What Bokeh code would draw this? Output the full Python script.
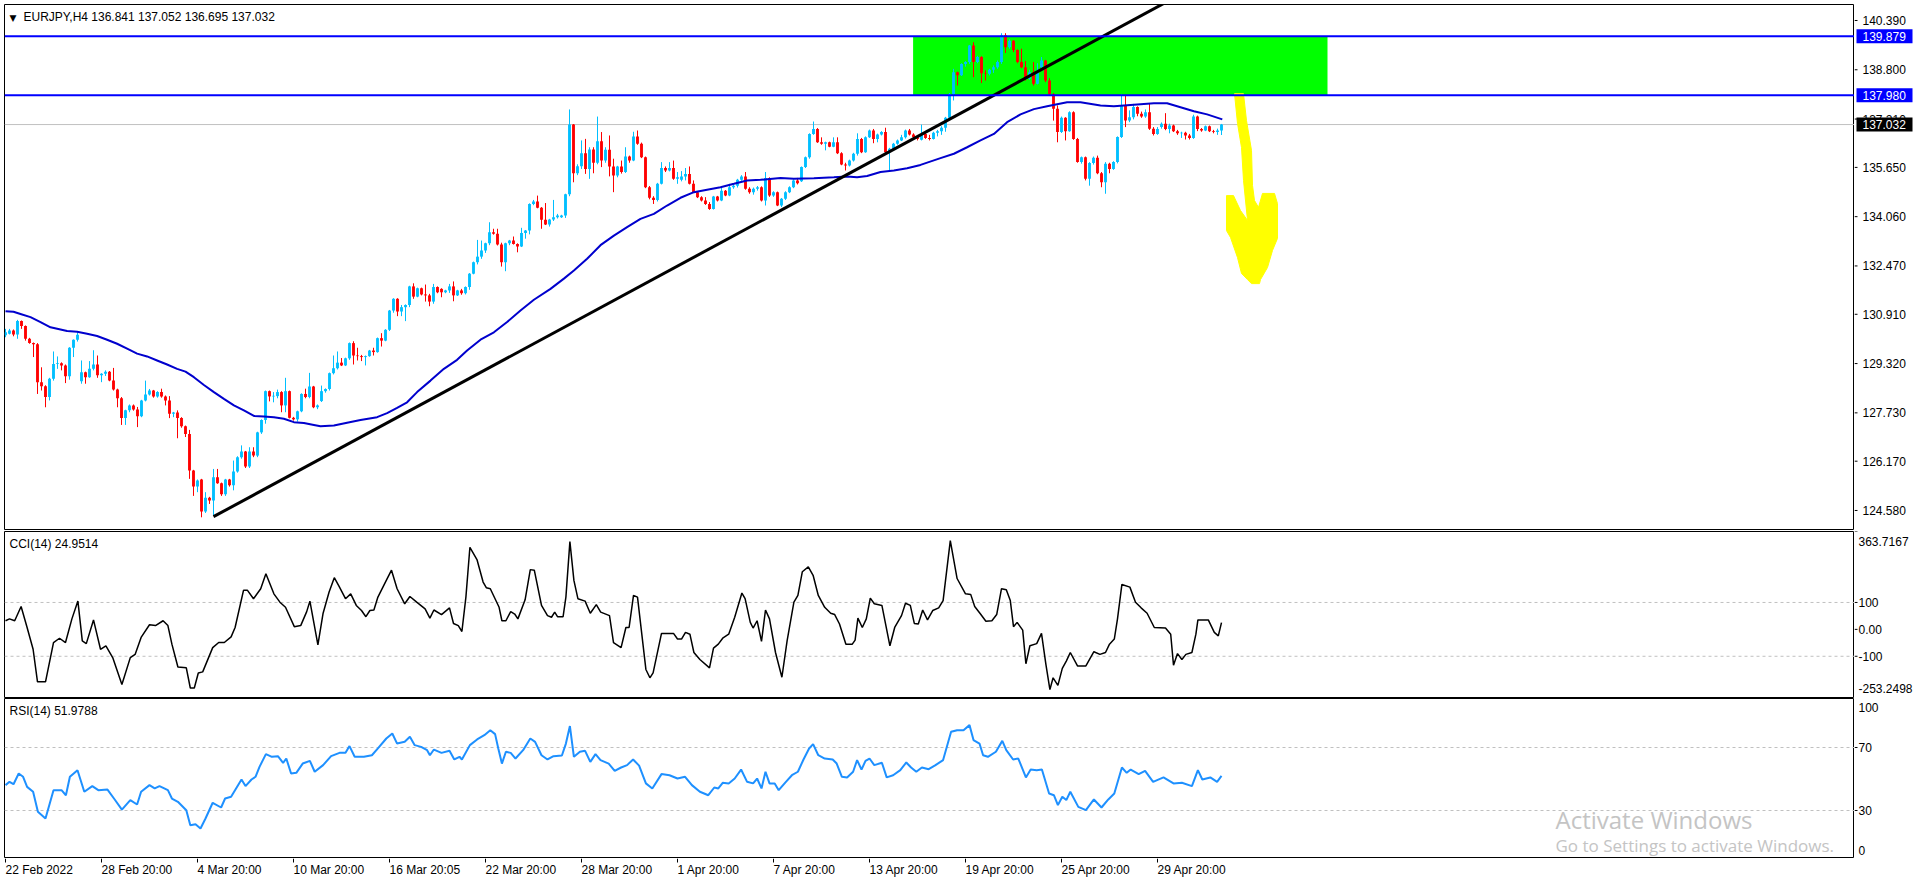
from bokeh.plotting import figure
from bokeh.layouts import column, row
from bokeh.models import Range1d, Label, Span, ColumnDataSource, Grid
from bokeh.core.properties import value
from bokeh.embed import file_html
from bokeh.resources import INLINE

FONT = "Liberation Sans"

# ---------------- data (EURJPY H4, bars indexed from 22 Feb 2022 20:00) ----------------
opn = [130.23,130.28,130.39,130.26,130.69,130.53,130.12,129.98,129.94,128.72,
128.59,128.24,128.83,129.31,129.33,129.26,128.91,129.83,130.09,128.75,
129.04,128.88,129.15,129.29,128.94,128.99,129.06,128.77,128.48,128.20,
127.56,127.81,127.97,127.84,127.62,128.13,128.32,128.45,128.26,128.40,
128.26,128.13,127.70,127.74,127.56,127.30,127.05,125.87,125.35,125.58,
124.55,124.99,124.90,125.65,125.46,125.10,125.58,125.39,125.84,126.30,
126.48,126.00,126.48,126.35,127.10,127.50,128.43,128.26,128.27,128.40,
127.97,128.43,127.57,127.52,127.78,128.34,128.24,128.58,127.91,128.11,
128.43,128.50,129.01,129.17,129.35,129.26,129.49,129.98,129.58,129.56,
129.53,129.56,129.74,129.69,130.14,130.06,130.41,131.03,131.41,131.00,
131.14,131.21,131.81,131.48,131.75,131.55,131.52,131.32,131.79,131.73,
131.62,131.68,131.81,131.52,131.68,131.59,131.79,132.22,132.59,132.77,
132.97,133.20,133.56,133.51,133.16,132.59,133.20,133.29,133.18,133.10,
133.53,133.61,134.47,134.55,134.35,133.96,133.81,133.97,134.04,134.04,
134.10,134.78,137.03,135.46,135.69,136.11,135.60,136.23,135.80,136.49,
135.87,136.22,135.68,135.39,135.68,135.50,136.00,135.87,136.65,136.41,
135.98,135.01,134.67,134.60,135.12,135.63,135.55,135.63,135.28,135.25,
135.36,135.44,135.12,134.85,134.69,134.58,134.47,134.31,134.71,134.58,
134.90,134.74,135.01,135.06,135.25,135.36,134.96,134.85,134.96,135.01,
134.58,135.31,134.74,134.85,134.42,134.64,134.85,135.01,135.23,135.20,
135.66,135.98,136.73,136.89,136.46,136.41,136.46,136.32,136.46,136.11,
135.74,135.71,135.87,136.09,136.57,136.14,136.62,136.84,136.57,136.71,
136.79,136.14,136.25,136.41,136.52,136.62,136.84,136.71,136.62,136.54,
136.73,136.60,136.57,136.77,136.82,136.93,137.25,138.02,138.72,138.62,
138.99,139.05,139.58,139.05,139.21,138.69,138.67,138.80,138.88,139.05,
139.91,139.53,139.74,139.44,139.05,138.88,138.51,138.72,138.35,138.88,
139.10,138.45,138.02,137.54,136.79,137.25,136.82,137.43,136.57,135.82,
135.98,135.28,135.79,135.96,135.46,135.17,135.77,135.60,135.82,136.63,
137.65,137.16,137.27,137.60,137.38,137.29,137.43,136.90,136.73,136.95,
137.06,136.89,137.00,136.82,136.75,136.77,136.68,136.60,137.29,136.89,
136.84,136.98,136.82,136.79,136.841]

high = [130.44,130.44,130.42,130.73,130.71,130.55,130.15,130.00,129.98,129.20,
128.62,128.86,129.71,129.55,129.36,129.29,129.85,130.10,130.33,129.42,
129.06,129.40,129.75,129.58,129.01,129.10,129.08,129.18,128.51,128.24,
127.83,128.00,128.00,127.92,128.15,128.77,128.50,128.47,128.43,128.51,
128.29,128.27,127.76,127.81,127.59,127.32,127.18,125.89,125.58,125.60,
125.17,125.02,125.92,125.92,125.48,125.60,125.60,126.19,126.33,126.68,
126.50,126.62,126.62,127.12,127.52,128.45,128.45,128.40,128.48,128.43,
128.86,128.45,127.60,127.80,128.36,128.51,129.02,128.60,128.00,128.61,
128.52,129.03,129.58,129.71,129.50,129.51,130.00,130.04,129.83,129.60,
129.58,129.76,129.83,130.16,130.30,130.43,131.05,131.43,131.43,131.21,
131.23,131.83,131.91,131.77,131.77,131.87,131.57,131.89,131.81,131.75,
131.70,131.89,131.97,131.70,131.73,131.81,132.24,132.61,133.31,133.29,
133.22,133.88,133.67,133.67,133.22,133.22,133.31,133.42,133.20,133.70,
133.63,134.49,134.60,134.74,134.37,134.50,133.99,134.60,134.15,134.12,
134.80,137.52,137.05,135.75,136.52,136.57,136.30,136.30,137.29,136.79,
136.30,136.68,135.93,135.70,135.87,136.30,136.03,136.80,136.84,136.45,
136.00,135.05,134.72,135.15,135.82,135.68,135.82,135.87,135.50,135.53,
135.63,135.68,135.23,134.88,134.72,134.69,134.53,134.73,134.73,135.01,
134.92,135.12,135.10,135.28,135.40,135.50,135.01,135.00,135.05,135.04,
135.50,135.33,134.88,134.87,134.66,134.88,135.04,135.26,135.31,135.68,
136.00,136.75,137.13,136.92,136.62,136.48,136.48,136.62,136.62,136.14,
135.80,135.90,136.12,136.75,136.60,136.65,136.87,136.89,136.74,136.82,
136.93,136.28,136.44,136.55,136.70,136.87,136.89,136.75,136.65,137.03,
136.75,136.70,136.80,136.86,136.98,137.28,138.05,138.83,138.74,139.01,
139.08,139.60,139.69,139.25,139.24,138.78,138.83,138.94,139.10,139.98,
139.98,139.78,139.76,139.46,139.48,139.08,138.80,139.05,139.01,139.21,
139.12,138.53,138.05,137.65,137.29,137.27,137.46,137.46,136.60,136.00,
136.00,135.82,136.00,136.03,135.50,135.82,135.80,135.85,136.65,138.02,
137.97,137.49,137.70,137.62,137.45,137.52,137.70,136.95,136.95,137.10,
137.40,137.06,137.03,136.86,136.80,136.80,136.73,137.35,137.32,136.92,
137.00,137.00,136.86,136.90,137.052]

low = [130.17,130.26,130.20,130.12,130.44,130.06,129.96,129.53,128.34,128.45,
127.91,128.13,128.77,129.15,129.10,128.69,128.80,129.53,130.03,128.67,
128.67,128.86,129.10,128.86,128.72,128.92,128.75,128.45,127.91,127.34,
127.34,127.75,127.80,127.27,127.59,128.10,128.29,128.22,128.22,128.22,
127.97,127.56,127.59,126.91,127.25,126.95,125.60,125.05,125.17,124.36,
124.50,124.79,124.42,125.44,125.05,125.05,125.35,125.23,125.80,126.25,
125.95,125.95,126.30,126.30,127.05,127.38,128.10,128.07,128.20,127.75,
127.75,127.55,127.48,127.45,127.75,128.20,128.20,127.88,127.85,128.08,
128.38,128.45,128.97,129.13,129.24,129.24,129.44,129.29,129.42,129.40,
129.26,129.54,129.58,129.67,129.87,130.04,130.37,130.96,130.85,130.85,
130.69,131.14,131.41,131.46,131.52,131.32,131.17,131.25,131.59,131.46,
131.59,131.60,131.33,131.50,131.54,131.55,131.70,132.20,132.52,132.70,
132.89,133.14,133.48,133.13,132.45,132.30,133.14,133.16,132.91,133.08,
133.35,133.49,134.43,134.33,133.67,133.79,133.74,133.92,134.00,134.02,
134.02,134.72,135.17,135.40,135.60,135.44,135.28,135.46,135.75,135.66,
135.80,135.36,134.85,135.33,135.45,135.47,135.80,135.85,136.38,135.95,
134.98,134.62,134.47,134.55,135.10,135.50,135.52,135.25,135.12,135.20,
135.23,135.10,134.82,134.66,134.55,134.44,134.28,134.29,134.55,134.56,
134.72,134.72,134.96,135.00,135.22,134.93,134.80,134.77,134.90,134.55,
134.42,134.70,134.70,134.40,134.37,134.60,134.82,134.98,135.10,135.18,
135.63,135.93,136.70,136.44,136.38,136.20,136.30,136.30,136.08,135.72,
135.55,135.68,135.84,136.03,136.11,136.12,136.60,136.43,136.46,136.68,
136.12,135.55,136.22,136.38,136.50,136.58,136.68,136.58,136.52,136.52,
136.57,136.52,136.55,136.65,136.70,136.80,137.22,137.81,138.29,138.60,
138.90,138.99,138.56,139.01,138.37,138.45,138.62,138.70,138.83,138.99,
139.34,139.48,139.37,139.01,138.85,138.45,138.48,138.29,138.33,138.85,
138.40,137.97,137.16,136.46,136.76,136.52,136.80,136.54,135.80,135.77,
135.23,135.06,135.74,135.43,135.01,134.80,135.46,135.57,135.78,136.60,
136.95,137.11,137.20,137.30,137.25,137.25,136.86,136.68,136.70,136.90,
136.85,136.75,136.79,136.70,136.60,136.55,136.55,136.57,136.82,136.80,
136.82,136.79,136.75,136.70,136.695]

close = [130.33,130.39,130.26,130.69,130.53,130.12,129.98,129.94,128.72,128.59,
128.24,128.83,129.31,129.33,129.26,128.91,129.83,130.09,130.25,129.04,
128.88,129.15,129.29,128.94,128.99,129.06,128.77,128.48,128.20,127.56,
127.81,127.97,127.84,127.62,128.13,128.32,128.45,128.26,128.40,128.26,
128.13,127.70,127.74,127.56,127.30,127.05,125.87,125.35,125.55,124.55,
124.99,124.90,125.65,125.46,125.10,125.58,125.39,125.84,126.30,126.48,
126.00,126.48,126.35,127.10,127.50,128.43,128.26,128.27,128.40,127.97,
128.43,127.57,127.52,127.78,128.34,128.24,128.58,127.91,127.97,128.43,
128.50,129.01,129.17,129.35,129.26,129.49,129.98,129.58,129.56,129.53,
129.56,129.74,129.69,130.14,130.06,130.41,131.03,131.41,131.00,131.14,
131.21,131.81,131.48,131.75,131.55,131.52,131.32,131.79,131.62,131.62,
131.68,131.81,131.52,131.68,131.59,131.79,132.22,132.59,132.77,132.97,
133.20,133.56,133.51,133.16,132.59,133.20,133.29,133.18,133.10,133.53,
133.61,134.47,134.55,134.35,133.96,133.81,133.97,134.04,134.10,134.10,
134.78,137.03,135.46,135.69,136.11,135.60,136.23,135.80,136.49,135.87,
136.22,135.68,135.39,135.68,135.50,136.00,135.87,136.65,136.41,135.98,
135.01,134.67,134.60,135.12,135.63,135.55,135.63,135.28,135.33,135.36,
135.44,135.12,134.85,134.69,134.58,134.47,134.31,134.71,134.58,134.90,
134.74,135.01,135.06,135.25,135.36,134.96,134.85,134.96,135.01,134.58,
135.31,134.74,134.85,134.42,134.64,134.85,135.01,135.23,135.14,135.66,
135.98,136.73,136.89,136.46,136.41,136.46,136.32,136.46,136.11,135.74,
135.71,135.87,136.09,136.57,136.14,136.62,136.84,136.57,136.71,136.79,
136.14,136.25,136.41,136.52,136.62,136.84,136.71,136.62,136.57,136.73,
136.60,136.57,136.77,136.82,136.93,137.25,138.02,138.72,138.62,138.99,
139.05,139.58,139.05,139.21,138.69,138.67,138.80,138.88,139.05,139.91,
139.53,139.74,139.44,139.05,138.88,138.51,138.72,138.35,138.78,139.10,
138.45,138.02,137.54,136.79,137.25,136.82,137.43,136.57,135.82,135.98,
135.28,135.79,135.96,135.46,135.17,135.77,135.60,135.82,136.63,137.65,
137.16,137.27,137.60,137.38,137.29,137.43,136.90,136.73,136.89,137.06,
136.89,137.00,136.82,136.75,136.77,136.68,136.60,137.29,136.89,136.84,
136.98,136.82,136.79,136.84,137.032]

# moving average (blue line) read at sample bars
ma_bar = [0,2,3.75,6.25,8.75,11.25,13.75,15.4,17.9,20.4,22.9,25.4,27.9,30.4,32.9,35.4,37.9,40.4,42.9,45,
47.1,49.6,52.1,54.6,57.1,59.6,62.1,64.6,67.1,69.6,72.1,74.6,77.1,78.75,82.1,85.4,88.75,92.9,95.4,97.9,
100.4,102.9,106.25,109.6,112.9,115.4,118.75,122.1,125.4,128.75,132.1,136.25,139.6,142.1,145.4,148.75,
152.1,155.4,158.75,162.1,165.4,168.75,172.1,175.4,178.75,182.1,185.4,188.75,193.75,197.1,202.1,207.1,
210.4,212.9,215.4,218.75,222.1,225.4,228.75,233.75,237.1,240.4,243.75,247.1,250.4,253.75,257.1,260.4,
265.4,268.75,273.75,277.1,282.1,287.1,290.4,293.75,297.1,300.4,304.2]
ma_val = [131.01,130.99,130.92,130.82,130.66,130.49,130.42,130.37,130.35,130.28,130.21,130.09,129.96,129.80,
129.64,129.55,129.42,129.29,129.15,129.06,128.88,128.63,128.40,128.18,127.97,127.81,127.63,127.61,127.59,
127.54,127.43,127.40,127.34,127.30,127.32,127.41,127.50,127.59,127.72,127.89,128.07,128.40,128.77,129.15,
129.44,129.74,130.09,130.33,130.66,131.03,131.38,131.73,132.06,132.32,132.70,133.14,133.45,133.72,133.99,
134.15,134.42,134.67,134.85,134.93,135.01,135.12,135.23,135.25,135.31,135.28,135.30,135.33,135.36,135.33,
135.37,135.50,135.55,135.62,135.73,135.95,136.09,136.30,136.52,136.73,137.11,137.36,137.53,137.62,137.75,
137.75,137.65,137.62,137.67,137.72,137.72,137.59,137.46,137.36,137.20]

# trend line end points (bar, price)
trend_bar = [52, 290]
trend_price = [124.38, 140.97]

# supply zone and levels
zone_left, zone_right = 226.9, 330.5
zone_low, zone_high = 137.980, 139.879
bid_price = 137.032

# hand drawn yellow arrow outline (bar, price)
arrow_bar = [307.25,309.5,310.25,311.5,311.75,312.25,313.25,314.25,317.25,318,318,316.75,315.5,313.75,
             313.5,311.5,310.5,309,308,306.25,305.25,305.25,307,308.75,310.5,309.5,309,308]
arrow_price = [138.03,138.03,137.16,136.20,135.07,134.58,134.36,134.81,134.81,134.48,133.36,132.97,132.42,
               132.03,131.90,131.90,132.03,132.23,132.74,133.39,133.61,134.74,134.74,134.26,133.94,135.23,
               136.29,137.07]

price_ticks = [140.390,138.800,137.210,135.650,134.060,132.470,130.910,129.320,127.730,126.170,124.580]
price_tick_labels = ["140.390","138.800","137.210","135.650","134.060","132.470","130.910","129.320",
                     "127.730","126.170","124.580"]

# CCI(14) read at sample bars
cci_bar = [0,1,2.3,3.9,5.4,6.9,8,10,12,13.5,15,16.6,18.1,19.2,20.2,22,23.75,25.1,26.8,29.1,31.2,32.4,33.9,36,
37.5,39.4,40.6,41.6,43.1,45.2,46.2,47.2,48.2,49.3,51.8,53.3,54.7,56.4,57.4,59.5,60.5,62,63.8,65.1,67.1,68.6,
70,72.2,73.8,75.3,76.1,78.1,79.4,80.9,82.2,83.4,85,86.3,87.7,89,90.1,91.1,92.1,93.1,95.2,96.5,97.9,99.8,
101.1,102.8,104.9,106.1,107.1,109,111,112,113.2,114.1,115.1,116.1,117.9,119.4,120.2,121.2,123.4,124.1,
125.1,126.3,127.3,128.1,129.9,131.2,132.2,134,135.5,136.5,137.3,138,139.4,140.1,141.1,142.1,143.1,144.9,
146.2,147.7,148.8,151,152,153.9,155.1,155.9,157,158,160.1,161.1,161.9,164,167,168,169,170,171.1,172.1,
173.6,176,177,178.2,179.3,180.8,182.3,184.1,184.9,186.2,186.9,187.9,189,190,191,192.5,194.1,195.4,197.1,
198.1,199.2,200.7,201.9,203.2,204.8,206.3,207.3,208.5,210.1,211.7,212.4,213.1,214.2,215.2,216.2,217.2,
219.1,221.1,222.3,224,225,226.2,227.2,228.2,229.3,230.5,231.8,233.3,234.4,236.2,237.9,240,241.3,242.3,
243.75,245.1,246.6,247.8,249,250.2,251.2,252,252.9,254.3,255.1,256.1,257.8,259,260.1,261.1,261.9,263.1,
264.2,265.2,266.2,268,270.1,272.1,273.6,275,276,277.2,278,279.1,281.1,282.5,283.9,285.4,287.2,290,291.3,
292,293,294.1,295.1,296.6,297.6,298.1,300.7,302.2,303.2,304]
cci_val = [32,39,32,85,7,-74,-195,-195,-49,-33,-49,39,105,-43,-53,35,-74,-61,-105,-205,-105,-93,-30,17,
14,32,14,-55,-140,-143,-218,-218,-162,-158,-68,-49,-49,-28,7,145,145,114,151,207,132,101,
82,10,14,66,105,-58,60,139,192,160,114,132,89,70,47,70,72,120,182,220,151,95,
122,101,76,42,72,55,80,22,14,-8,120,305,258,176,155,151,82,32,
32,66,57,39,110,222,220,89,51,45,64,47,47,120,326,182,114,105,
60,92,64,51,-49,-68,7,7,126,120,-149,-180,-162,-15,-15,-36,-36,-11,-18,-86,
-112,-143,-70,-55,-33,-18,45,135,114,26,5,32,-45,72,39,-86,-178,-43,101,
126,214,232,201,126,82,60,55,20,-55,-55,-40,42,7,39,116,95,
89,-61,7,51,97,89,22,20,72,35,70,80,107,330,189,132,130,85,
57,30,32,55,151,147,107,10,26,-3,-128,-61,-53,-15,-130,-224,-180,-208,
-145,-118,-86,-136,-136,-83,-93,-86,-55,-36,39,167,157,101,80,60,7,5,-18,
-133,-90,-112,-93,-86,-18,35,35,-11,-24,24.95]

# RSI(14) read at sample bars
rsi_bar = [0,1,2,3.3,4.4,5.4,6.9,8.1,10,12,14,15.1,16.1,18,19.7,21.7,23.2,25.5,27.3,29.1,31.2,32.9,33.9,36,
37.3,38.5,40.6,41.6,43.1,45.2,46.2,47.5,48.75,50,51.8,53.9,54.9,56.4,59,60,61.5,62.5,63.5,65.1,66.6,68.1,
69.4,70.2,71.4,72.7,74.3,76.1,77.3,79.4,81.4,83.5,85,86,87.3,89.6,91.6,93.1,95.2,96.7,97.9,99.8,101.1,
102.3,103.9,105.4,106.1,107.1,109,111,112.2,113.5,114.1,116.1,117.9,119.7,121.2,122.4,123.2,124.1,125.1,
126.3,127.5,129.4,131.2,132.4,134,135.5,137,139.1,140.1,141.1,142.1,143.6,144.9,146.2,147.5,148.75,150.8,
152.3,153.9,155.4,156.9,158.4,160.1,161.7,164,166,168,169.9,171.6,173.6,175.7,177.2,178.2,179.3,180.8,
182.3,183.9,185.4,186.9,187.9,189,190,191,192.3,193.3,195.1,196.6,198.1,199.5,200.9,201.9,203.2,204.8,
206.8,207.8,209.1,210.4,211.9,212.9,214,215,216,217.2,219.1,220.3,221.9,223.7,225.2,226.4,227.7,229.1,
230.8,232.5,234.4,236.4,237.9,239.5,241,242,243.5,244.4,245.6,247.6,249.2,250.2,251.9,253.2,255.1,256.3,
257.8,259.1,260.9,262.1,263.1,264.2,265.2,266.2,268.2,270.1,272.1,274,275.7,277.2,279.1,280.3,281.3,
283.3,284.9,286.9,289.5,292,294.1,296.6,298.1,299.2,301.2,302.9,304]
rsi_val = [46.1,48.2,46.7,53.5,51.4,45.0,41.9,29.2,24.9,42.9,42.9,39.7,51.4,55.6,41.9,45.5,42.9,43.3,37.0,
30.6,36.6,33.8,41.9,46.1,44.0,45.5,42.9,37.6,35.5,30.2,20.7,21.3,18.6,24.9,34.9,31.9,37.6,38.7,49.7,45.5,
49.7,51.4,57.7,65.8,64.1,64.5,60.3,63.0,53.5,53.9,59.8,61.5,54.6,58.8,64.5,66.6,66.6,70.9,64.1,64.1,65.1,
69.4,75.7,78.9,72.5,73.6,76.8,71.5,70.4,68.3,65.1,68.7,66.6,67.9,62.4,64.1,62.4,71.5,75.1,77.8,81.0,78.5,
69.4,59.8,67.3,66.6,63.0,68.3,75.7,73.6,65.1,62.4,64.5,64.9,72.5,83.6,64.1,67.3,67.9,60.9,65.8,62.0,59.8,
55.2,57.3,58.8,62.4,58.5,47.2,44.0,53.1,52.4,50.3,51.4,46.1,41.9,39.7,44.6,44.0,47.6,47.2,50.3,56.0,48.2,
47.2,50.3,44.0,54.6,47.2,47.2,42.9,48.2,52.4,54.6,62.4,69.4,72.1,65.1,63.0,62.4,59.8,51.4,51.0,54.6,62.0,
56.0,61.5,63.0,58.8,60.3,51.0,52.4,55.6,60.5,57.3,54.6,57.3,56.2,58.8,62.0,80.0,81.0,81.0,84.2,74.7,72.5,
65.1,64.1,67.3,74.2,68.3,62.4,63.0,51.0,56.0,55.6,56.0,40.8,39.7,33.4,38.7,36.6,41.9,32.3,30.2,37.0,31.9,
37.0,40.8,57.3,53.9,56.0,53.1,55.2,48.2,51.0,47.2,47.6,45.5,55.6,49.7,51.0,48.2,51.98]

cci_levels = [100, 0, -100]
cci_level_labels = ["100", "0.00", "-100"]
cci_max, cci_min = 363.7167, -253.2498
rsi_levels = [70, 30]
rsi_level_labels = ["70", "30"]

time_tick_bars = [0,24,48,72,96,120,144,168,192,216,240,264,288]
time_tick_labels = ["22 Feb 2022","28 Feb 20:00","4 Mar 20:00","10 Mar 20:00","16 Mar 20:05",
                    "22 Mar 20:00","28 Mar 20:00","1 Apr 20:00","7 Apr 20:00","13 Apr 20:00",
                    "19 Apr 20:00","25 Apr 20:00","29 Apr 20:00"]

# ---------------- layout constants (page pixels) ----------------
LEFT = 4          # frame starts at x=4
FRAME_W = 1850    # frame ends at x=1854
AX_W = 63         # price scale strip to the right
UP = "#00bfff"
DN = "#ff0000"

xr = Range1d(-0.25, 462.25)   # 4 px per bar


def strip_grids(f):
    for g in f.select(type=Grid):
        g.visible = False


def panel_fig(height, yr, top, bottom):
    f = figure(width=LEFT + FRAME_W, height=height, x_range=xr, y_range=yr, output_backend="svg",
               toolbar_location=None, title=None, x_axis_location=None, y_axis_location=None,
               min_border_left=LEFT, min_border_right=0, min_border_top=top, min_border_bottom=bottom)
    f.outline_line_color = "black"
    f.outline_line_width = 1
    f.outline_line_alpha = 1
    f.background_fill_color = "white"
    f.border_fill_color = "white"
    strip_grids(f)
    return f


def axis_fig(height, yr, top, bottom):
    f = figure(width=AX_W, height=height, x_range=Range1d(0, AX_W), y_range=yr, output_backend="svg",
               toolbar_location=None, title=None, x_axis_location=None, y_axis_location=None,
               min_border_left=0, min_border_right=0, min_border_top=top, min_border_bottom=bottom)
    f.outline_line_color = None
    f.background_fill_color = "white"
    f.border_fill_color = "white"
    strip_grids(f)
    return f


def scale_text(f, xs, ys, texts, color="black", yoff=0):
    f.text(x=xs, y=ys, text=texts, text_color=color, text_font=value(FONT), text_font_size="12px",
           text_align="left", text_baseline="middle", y_offset=yoff)


def frame_label(f, x, y, text, color="black", size="12px", font=FONT):
    f.add_layout(Label(x=x, y=y, x_units="screen", y_units="screen", text=text, text_color=color,
                       text_font_size=size, text_font=font, text_align="left", text_baseline="middle"))


# ---------------- main price panel ----------------
p = panel_fig(531, Range1d(123.966, 140.906), 4, 2)

p.quad(left=[zone_left], right=[zone_right], bottom=[zone_low], top=[zone_high],
       fill_color="#00ff00", line_color=None)
p.add_layout(Span(location=bid_price, dimension="width", line_color="#c0c0c0", line_width=1, level="underlay"))

xs = list(range(len(close)))
tops, bots, cols = [], [], []
for o, c in zip(opn, close):
    t, b = max(o, c), min(o, c)
    if t - b < 0.02:
        t = b + 0.02
    tops.append(t)
    bots.append(b)
    cols.append(UP if c >= o else DN)
src = ColumnDataSource(dict(x=xs, h=high, l=low, top=tops, bot=bots, color=cols))
p.segment(x0="x", y0="l", x1="x", y1="h", line_color="color", line_width=1, source=src)
p.vbar(x="x", width=0.72, top="top", bottom="bot", fill_color="color", line_color=None, source=src)

p.line(ma_bar, ma_val, line_color="#0000cd", line_width=2)
p.line(trend_bar, trend_price, line_color="black", line_width=3)
p.patch(arrow_bar, arrow_price, fill_color="#ffff00", line_color="#ffff00", line_width=1)

p.add_layout(Span(location=zone_high, dimension="width", line_color="#0000ff", line_width=2))
p.add_layout(Span(location=zone_low, dimension="width", line_color="#0000ff", line_width=2))

frame_label(p, 5, 512, "\u25bc", font="DejaVu Sans", size="9px")
frame_label(p, 19, 512.5, "EURJPY,H4  136.841 137.052 136.695 137.032")

pa = axis_fig(531, p.y_range, 4, 2)
pa.segment(x0=[0] * len(price_ticks), x1=[3] * len(price_ticks), y0=price_ticks, y1=price_ticks,
           line_color="black", line_width=1)
scale_text(pa, [8] * len(price_ticks), price_ticks, price_tick_labels)
box_prices = [zone_high, zone_low, bid_price]
box_texts = ["139.879", "137.980", "137.032"]
box_colors = ["#0000ff", "#0000ff", "#000000"]
pa.rect(x=[30] * 3, y=box_prices, width=56, height=14, width_units="screen", height_units="screen",
        fill_color=box_colors, line_color=None)
scale_text(pa, [8] * 3, box_prices, box_texts, color="white")

# ---------------- CCI panel ----------------
pc = panel_fig(167, Range1d(cci_min, cci_max), 0, 1)
for lv in (100, -100):
    pc.add_layout(Span(location=lv, dimension="width", line_color="#c0c0c0", line_width=1,
                       line_dash="3 3", level="underlay"))
pc.line(cci_bar, cci_val, line_color="black", line_width=1.5)
frame_label(pc, 5, 154, "CCI(14) 24.9514")

pca = axis_fig(167, pc.y_range, 0, 1)
pca.segment(x0=[0] * 4, x1=[3] * 4, y0=cci_levels + [cci_max], y1=cci_levels + [cci_max],
            line_color="black", line_width=1)
scale_text(pca, [4] * 3, cci_levels, cci_level_labels)
scale_text(pca, [4], [cci_max], ["363.7167"], yoff=10)
scale_text(pca, [4], [cci_min], ["-253.2498"], yoff=-9)

# ---------------- RSI panel ----------------
pr = panel_fig(160, Range1d(-0.48, 101.11), 0, 0)
for lv in (70, 30):
    pr.add_layout(Span(location=lv, dimension="width", line_color="#c0c0c0", line_width=1,
                       line_dash="3 3", level="underlay"))
pr.line(rsi_bar, rsi_val, line_color="#1e90ff", line_width=2)
frame_label(pr, 5, 148, "RSI(14) 51.9788")
frame_label(pr, 1551, 39, "Activate Windows", color="#c4c4c4", size="24px", font="Open Sans")
frame_label(pr, 1551, 13, "Go to Settings to activate Windows.", color="#c4c4c4", size="17px", font="Open Sans")

pra = axis_fig(160, pr.y_range, 0, 0)
pra.segment(x0=[0] * 2, x1=[3] * 2, y0=rsi_levels, y1=rsi_levels, line_color="black", line_width=1)
scale_text(pra, [4] * 2, rsi_levels, rsi_level_labels)
scale_text(pra, [4], [101.11], ["100"], yoff=9)
scale_text(pra, [4], [-0.48], ["0"], yoff=-8)

# ---------------- time scale ----------------
pt = figure(width=LEFT + FRAME_W, height=26, x_range=xr, y_range=Range1d(0, 26), output_backend="svg",
            toolbar_location=None, title=None, x_axis_location=None, y_axis_location=None,
            min_border_left=LEFT, min_border_right=0, min_border_top=0, min_border_bottom=0)
pt.outline_line_color = None
pt.background_fill_color = "white"
pt.border_fill_color = "white"
strip_grids(pt)
nt = len(time_tick_bars)
pt.segment(x0=time_tick_bars, x1=time_tick_bars, y0=[26] * nt, y1=[22] * nt, line_color="black", line_width=1)
pt.text(x=time_tick_bars, y=[15] * nt, text=time_tick_labels, text_color="black", text_font=value(FONT),
        text_font_size="12px", text_align="left", text_baseline="middle")

layout = column(row(p, pa, spacing=0), row(pc, pca, spacing=0), row(pr, pra, spacing=0), pt, spacing=0)
open("out.html", "w").write(file_html(layout, INLINE))
